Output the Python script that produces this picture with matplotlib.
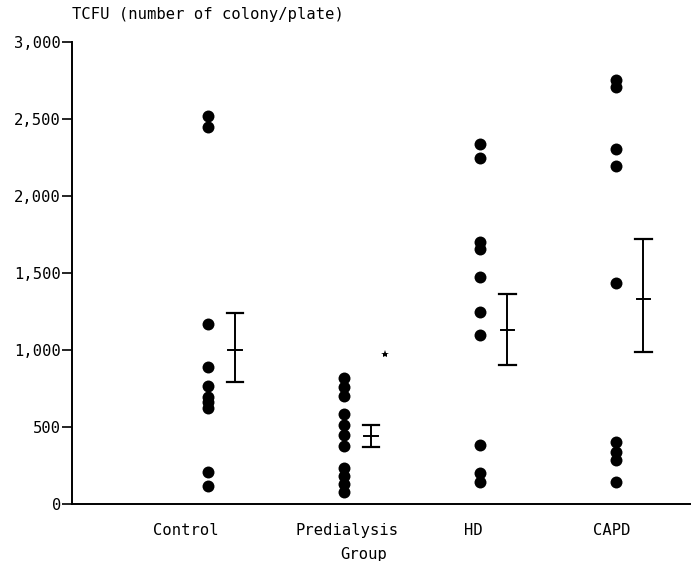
import matplotlib
matplotlib.use("Agg")
import matplotlib.pyplot as plt
from matplotlib.ticker import FuncFormatter

# TCFU per plate
groups = ["Control", "Predialysis", "HD", "CAPD"]
control = [2520, 2446, 1170, 890, 765, 695, 660, 625, 210, 120]
predialysis = [820, 761, 703, 582, 515, 448, 379, 236, 182, 130, 76]
hd = [2341, 2247, 1702, 1659, 1471, 1248, 1097, 383, 200, 140]
capd = [2751, 2708, 2308, 2193, 1432, 404, 339, 285, 145]
values = [control, predialysis, hd, capd]

# mean with lower/upper bar ends
means = [1000, 441, 1129, 1330]
lows = [794, 372, 902, 984]
highs = [1238, 513, 1363, 1720]

mono = "DejaVu Sans Mono"
fs = 11.2

fig = plt.figure(figsize=(6.91, 5.61), dpi=100)
ax = fig.add_axes([0.1042, 0.1016, 0.8958, 0.8235])

for i, vals in enumerate(values):
    xpos = i + 1
    ax.plot([xpos] * len(vals), vals, "o", color="black", markersize=8.6,
            markeredgewidth=0, clip_on=False)
    ex = xpos + 0.2
    ax.plot([ex, ex], [lows[i], highs[i]], color="black", lw=1.4)
    for yv in (lows[i], highs[i]):
        ax.plot([ex - 0.06, ex + 0.06], [yv, yv], color="black", lw=1.6)
    ax.plot([ex - 0.05, ex + 0.05], [means[i], means[i]], color="black", lw=1.4)

# significance marker next to predialysis
ax.plot(2.3, 973, marker="*", color="black", markersize=6, markeredgewidth=0)

ax.set_xlim(0, 4.55)
ax.set_ylim(0, 3000)
ax.set_yticks(range(0, 3001, 500))
ax.yaxis.set_major_formatter(FuncFormatter(lambda v, p: f"{int(v):,}"))
ax.tick_params(axis="y", direction="out", length=7, width=1.2, labelsize=fs, pad=1)
ax.tick_params(axis="x", length=0, labelsize=fs, pad=14)
ax.set_xticks([0.84, 2.02, 2.95, 3.97])
ax.set_xticklabels(groups, family=mono)
for lab in ax.get_yticklabels():
    lab.set_family(mono)

for s in ("top", "right"):
    ax.spines[s].set_visible(False)
ax.spines["left"].set_linewidth(1.4)
ax.spines["bottom"].set_linewidth(1.4)

ax.set_xlabel("Group", family=mono, fontsize=fs)
ax.xaxis.set_label_coords((364 - 72) / 619, -(554 - 504) / 462)
ax.xaxis.label.set_va("center")
fig.text(72 / 691, 1 - 14 / 561, "TCFU (number of colony/plate)", family=mono,
         fontsize=fs, va="center", ha="left")

fig.savefig("out.png", dpi=100)
